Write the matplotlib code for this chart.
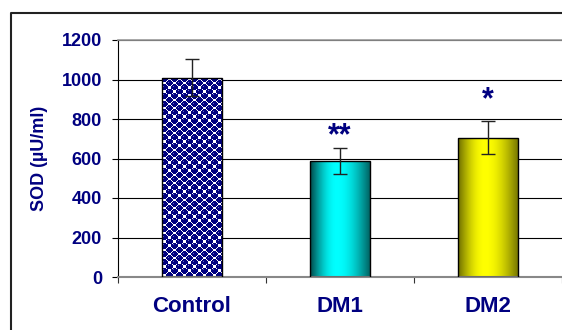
import numpy as np
import matplotlib.pyplot as plt
from matplotlib.lines import Line2D

# SOD activity per group, mean and standard error
groups = ['Control', 'DM1', 'DM2']
sod_mean = [1010, 585, 705]
sod_err = [93, 66, 83]
marks = ['', '**', '*']

navy = '#000080'
plt.rcParams['font.family'] = ['Liberation Sans', 'DejaVu Sans']
plt.rcParams['font.weight'] = 'bold'


def dots_texture(w=60, h=240):
    # checker of navy/white cells with navy balls, like the old Excel fill
    yy, xx = np.mgrid[0:h, 0:w]
    cell = 5
    i, j = xx // cell, yy // cell
    navy_cell = (i + j) % 2 == 0
    img = np.ones((h, w, 3))
    base = np.array([0, 0, 128]) / 255
    img[navy_cell] = base
    # balls centred on navy cells spill into the white ones
    cx = (xx // cell) * cell + cell / 2
    cy = (yy // cell) * cell + cell / 2
    for dx in (-cell, 0, cell):
        for dy in (-cell, 0, cell):
            ccx, ccy = cx + dx, cy + dy
            on = ((ccx // cell + ccy // cell) % 2 == 0)
            d = np.hypot(xx + 0.5 - ccx, yy + 0.5 - ccy)
            img[on & (d < 3.6)] = base
    # small highlight on each ball
    hl = navy_cell & (xx % cell == 1) & (yy % cell == 1)
    img[hl] = np.array([100, 100, 200]) / 255
    return img


def gradient(edge_l, mid, edge_r, n=200):
    t = np.linspace(0, 1, n)
    left = np.clip(t / 0.45, 0, 1)
    right = np.clip((1 - t) / 0.55, 0, 1)
    wl = np.sin(left * np.pi / 2)
    wr = np.sin(right * np.pi / 2)
    el, m, er = (np.array(c) / 255 for c in (edge_l, mid, edge_r))
    cols = np.where((t < 0.45)[:, None], el + (m - el) * wl[:, None], er + (m - er) * wr[:, None])
    return cols[None, :, :]


fills = [
    dots_texture(),
    gradient((0, 70, 70), (0, 255, 255), (0, 100, 100)),
    gradient((110, 110, 0), (255, 255, 0), (120, 120, 0)),
]

fig = plt.figure(figsize=(5.62, 3.30), dpi=100)
ax = fig.add_axes([118 / 562, 1 - 277 / 330, 1 - 118 / 562, 237 / 330])

x = np.arange(len(groups))
bars = ax.bar(x, sod_mean, width=0.4, color='none', edgecolor='black', linewidth=1, zorder=3)
for b, img in zip(bars, fills):
    x0, w, h = b.get_x(), b.get_width(), b.get_height()
    im = ax.imshow(img, extent=[x0, x0 + w, 0, h], aspect='auto', zorder=2.5,
                   interpolation='nearest' if img.shape[0] > 1 else 'bilinear')
    im.set_clip_path(b)

ax.errorbar(x, sod_mean, yerr=sod_err, fmt='none', ecolor='#222222', elinewidth=1,
            capsize=5, capthick=1, zorder=4)

offsets = [0, 9, 15]
for xi, m, e, s, off in zip(x, sod_mean, sod_err, marks, offsets):
    if s:
        ax.annotate(s, xy=(xi, m + e), xytext=(0, off), textcoords='offset points',
                    ha='center', va='center', fontsize=22, color=navy, fontweight='bold')

ax.set_xlim(-0.5, 2.5)
ax.set_ylim(0, 1200)
ax.set_yticks(range(0, 1201, 200))
ax.set_xticks(x)
ax.set_xticklabels(groups)
ax.set_xticks([-0.5, 0.5, 1.5, 2.5], minor=True)

ax.yaxis.grid(True, color='black', linewidth=0.8)
ax.set_axisbelow(True)
ax.tick_params(axis='y', direction='out', length=4.5, width=0.8, color='black',
               pad=7, labelsize=13, labelcolor=navy)
ax.tick_params(axis='x', which='major', length=0, pad=14, labelsize=16, labelcolor=navy)
ax.tick_params(axis='x', which='minor', direction='out', length=4.5, width=0.8, color='#333333')

ax.spines['right'].set_visible(False)
ax.spines['top'].set_color('#999999')
ax.spines['top'].set_linewidth(1.2)
ax.spines['bottom'].set_color('#888888')
ax.spines['bottom'].set_linewidth(1.5)
ax.spines['left'].set_color('black')
ax.spines['left'].set_linewidth(0.8)

fig.text(40 / 562, 1 - 158 / 330, 'SOD (µU/ml)', rotation=90, ha='center', va='center',
         fontsize=13, color=navy, fontweight='bold')

# frame around the chart area
bx, by = 11 / 562, 1 - 13 / 330
fig.add_artist(Line2D([bx, bx, 1], [0, by, by], transform=fig.transFigure,
                      color='#222222', linewidth=1.5))

fig.savefig('out.png', dpi=100)
